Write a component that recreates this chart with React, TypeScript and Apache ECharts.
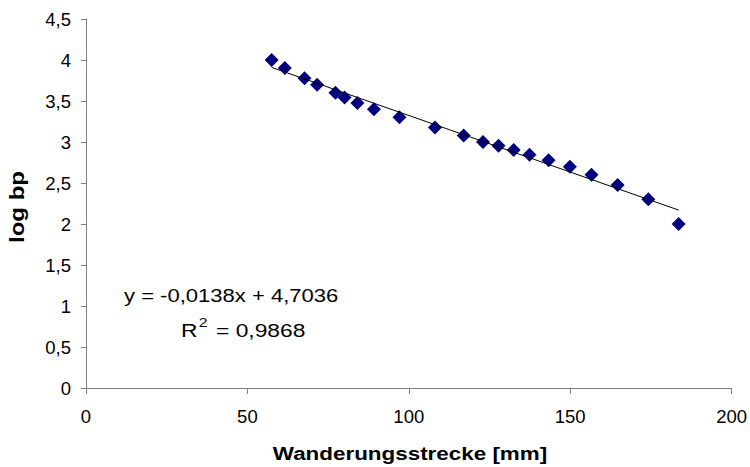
import React, { useEffect, useRef } from "react";
import * as echarts from "echarts";

const distances = [57.5, 61.6, 67.7, 71.6, 77.3, 80.1, 84.1, 89.2, 97.1, 108.1, 117.0, 123.0, 127.8, 132.5, 137.4, 143.3, 149.9, 156.6, 164.7, 174.2, 183.6];
const logBp = [4.0, 3.903, 3.778, 3.699, 3.602, 3.544, 3.477, 3.398, 3.301, 3.176, 3.079, 3.0, 2.954, 2.903, 2.845, 2.778, 2.699, 2.602, 2.477, 2.301, 2.0];
const slope = -0.0138;
const intercept = 4.7036;
const eqText = "y = -0,0138x + 4,7036";
const r2Value = "0,9868";
const xTitle = "Wanderungsstrecke [mm]";
const yTitle = "log bp";

export default function App() {
  const ref = useRef<HTMLDivElement>(null);
  useEffect(() => {
    if (!ref.current) return;
    const chart = echarts.init(ref.current, null, { renderer: "svg" });
    const xMin = Math.min(...distances);
    const xMax = Math.max(...distances);
    const font = "Liberation Sans, Arial, sans-serif";
    chart.setOption({
      animation: false,
      backgroundColor: "#ffffff",
      grid: { left: 86, right: 15, top: 19, bottom: 79 },
      xAxis: {
        type: "value",
        min: 0,
        max: 200,
        interval: 50,
        axisLine: { lineStyle: { color: "#808080", width: 1 } },
        axisTick: { show: true, inside: false, length: 6, lineStyle: { color: "#808080" } },
        axisLabel: { fontFamily: font, fontSize: 18.5, color: "#000", margin: 19 },
        splitLine: { show: false },
      },
      yAxis: {
        type: "value",
        min: 0,
        max: 4.5,
        interval: 0.5,
        axisLine: { show: true, lineStyle: { color: "#808080", width: 1 } },
        axisTick: { show: true, inside: false, length: 5, lineStyle: { color: "#808080" } },
        axisLabel: {
          fontFamily: font,
          fontSize: 18.5,
          color: "#000",
          margin: 15,
          formatter: (v: number) => String(v).replace(".", ","),
        },
        splitLine: { show: false },
      },
      series: [
        {
          type: "line",
          data: [
            [xMin, slope * xMin + intercept],
            [xMax, slope * xMax + intercept],
          ],
          showSymbol: false,
          symbol: "none",
          lineStyle: { color: "#000", width: 1 },
          z: 3,
        },
        {
          type: "scatter",
          data: distances.map((d, i) => [d, logBp[i]]),
          symbol: "diamond",
          symbolSize: [14, 14],
          itemStyle: { color: "#000080", opacity: 1 },
          z: 2,
        },
      ],
      graphic: [
        {
          type: "text",
          x: 410,
          y: 453,
          scaleX: 1.18,
          style: {
            text: xTitle,
            font: `bold 19px ${font}`,
            fill: "#000",
            align: "center",
            verticalAlign: "middle",
          },
        },
        {
          type: "text",
          x: 17,
          y: 207,
          rotation: Math.PI / 2,
          scaleX: 1.2,
          style: {
            text: yTitle,
            font: `bold 20px ${font}`,
            fill: "#000",
            align: "center",
            verticalAlign: "middle",
          },
        },
        {
          type: "text",
          x: 124,
          y: 295,
          scaleX: 1.16,
          style: {
            text: eqText,
            font: `19px ${font}`,
            fill: "#000",
            align: "left",
            verticalAlign: "middle",
          },
        },
        {
          type: "text",
          x: 181,
          y: 328,
          scaleX: 1.2,
          style: {
            text: "{a|R}{s|2}{a| = " + r2Value + "}",
            align: "left",
            verticalAlign: "middle",
            rich: {
              a: { font: `19px ${font}`, fill: "#000", verticalAlign: "bottom", lineHeight: 24 },
              s: { font: `13px ${font}`, fill: "#000", verticalAlign: "top", lineHeight: 24, padding: [0, 2, 0, 1] },
            },
          },
        },
      ],
    });
    return () => chart.dispose();
  }, []);
  return <div ref={ref} style={{ width: 750, height: 467, position: "absolute", left: 0, top: 0 }} />;
}
